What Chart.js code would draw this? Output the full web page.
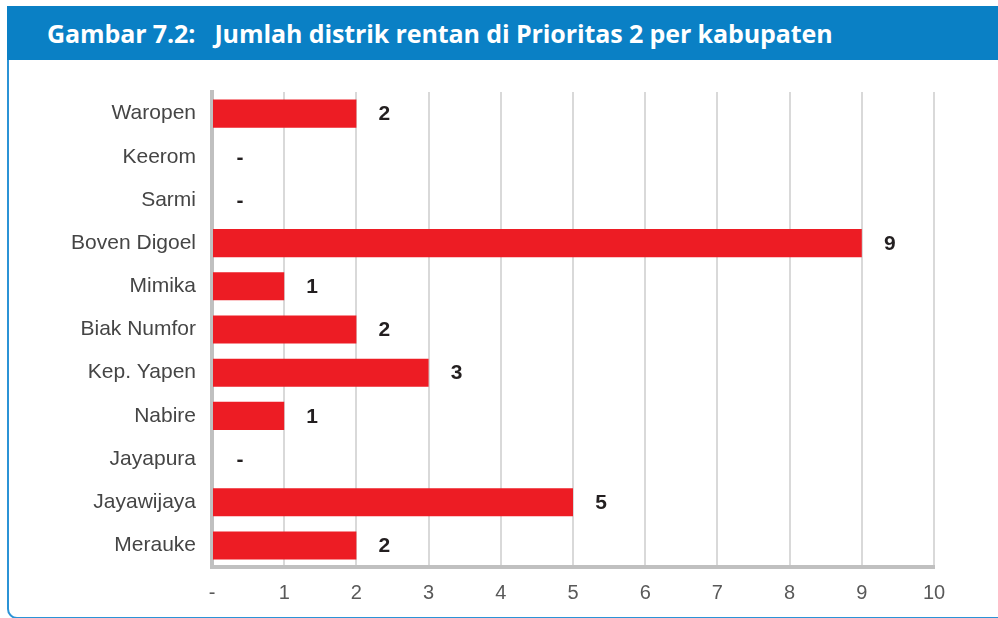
<!DOCTYPE html>
<html>
<head>
<meta charset="utf-8">
<script src="https://cdn.jsdelivr.net/npm/chart.js@4/dist/chart.umd.min.js"></script>
<style>
  html, body { margin: 0; padding: 0; background: #fff; }
  #page { position: relative; width: 998px; height: 618px; overflow: hidden; }
  #header {
    position: absolute; left: 7px; top: 6px; right: 0; height: 54px;
    background: #0a80c5; color: #fff;
    font-family: "Open Sans", sans-serif; font-weight: 700; font-size: 25px;
    line-height: 54px; padding-left: 40px; letter-spacing: -0.1px;
    white-space: pre;
  }
  #panel {
    position: absolute; left: 7px; top: 60px; right: -20px; bottom: -1px;
    border-left: 2px solid #2b93d6; border-bottom: 2px solid #2b93d6;
    border-bottom-left-radius: 10px;
  }
  #wrap { position: absolute; left: 0; top: 60px; width: 998px; height: 558px; }
</style>
</head>
<body>
<div id="page">
  <div id="header">Gambar 7.2:   Jumlah distrik rentan di Prioritas 2 per kabupaten</div>
  <div id="panel"></div>
  <div id="wrap"><canvas id="chart"></canvas></div>
</div>
<script>
const kabupaten = ['Waropen', 'Keerom', 'Sarmi', 'Boven Digoel', 'Mimika', 'Biak Numfor',
  'Kep. Yapen', 'Nabire', 'Jayapura', 'Jayawijaya', 'Merauke'];
const jumlahDistrik = [2, 0, 0, 9, 1, 2, 3, 1, 0, 5, 2];
const xTicks = ['-', '1', '2', '3', '4', '5', '6', '7', '8', '9', '10'];

const FONT = 'Arial, "Liberation Sans", sans-serif';

// value labels to the right of each bar, '-' for zero
const barLabels = {
  id: 'barLabels',
  afterDatasetsDraw(chart) {
    const ctx = chart.ctx;
    const meta = chart.getDatasetMeta(0);
    ctx.save();
    ctx.font = 'bold 21px ' + FONT;
    ctx.fillStyle = '#231f20';
    ctx.textAlign = 'center';
    ctx.textBaseline = 'middle';
    meta.data.forEach((bar, i) => {
      const v = jumlahDistrik[i];
      ctx.fillText(v === 0 ? '-' : String(v), bar.x + 28, bar.y + 1);
    });
    ctx.restore();
  }
};

new Chart(document.getElementById('chart'), {
  type: 'bar',
  data: {
    labels: kabupaten,
    datasets: [{
      data: jumlahDistrik,
      backgroundColor: '#ed1c24',
      barPercentage: 0.65,
      categoryPercentage: 1,
    }]
  },
  options: {
    indexAxis: 'y',
    responsive: true,
    maintainAspectRatio: false,
    animation: false,
    layout: { padding: { top: 32, right: 64, left: 0, bottom: 0 } },
    plugins: {
      legend: { display: false },
      tooltip: { enabled: false },
    },
    scales: {
      x: {
        min: 0,
        max: 10,
        border: { display: true, color: '#c0c0c0', width: 4 },
        grid: { color: '#d9d9d9', lineWidth: 2, drawTicks: false },
        ticks: {
          stepSize: 1,
          padding: 14,
          color: '#595959',
          font: { family: FONT, size: 20 },
          callback: (v) => xTicks[v],
        },
        afterFit: (scale) => { scale.height = 51; },
      },
      y: {
        border: { display: true, color: '#c0c0c0', width: 4 },
        grid: { display: false },
        ticks: {
          padding: 8,
          color: '#454545',
          font: { family: FONT, size: 21 },
        },
        afterFit: (scale) => { scale.width = 212; },
      }
    }
  },
  plugins: [barLabels]
});
</script>
</body>
</html>
